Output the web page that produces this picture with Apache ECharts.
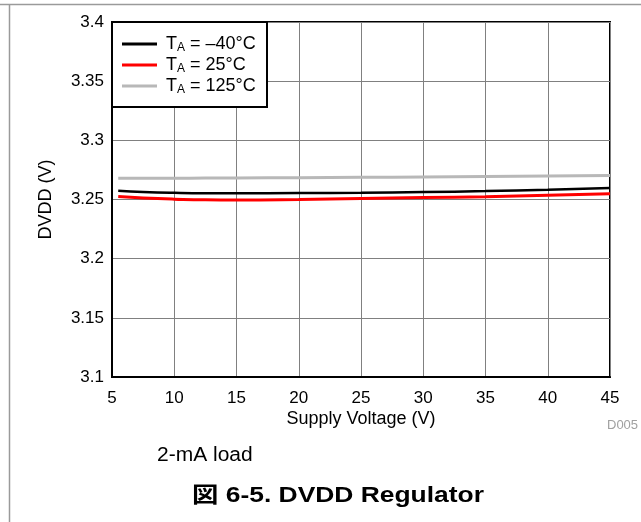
<!DOCTYPE html>
<html><head><meta charset="utf-8">
<script src="https://cdn.jsdelivr.net/npm/echarts@6/dist/echarts.min.js"></script>
<style>html,body{margin:0;padding:0;background:#fff}#c{width:641px;height:522px}</style>
</head><body><div id="c"></div>
<script>
const xValues = [5.5, 7.5, 10, 12.5, 15, 20, 25, 30, 35, 40, 45];
const seriesNames = ['T_A = \u201340\u00b0C', 'T_A = 25\u00b0C', 'T_A = 125\u00b0C'];
const blackVals = [3.2573, 3.2563, 3.2556, 3.2553, 3.2553, 3.2554, 3.2557, 3.2563, 3.2571, 3.2583, 3.2597];
const redVals   = [3.2525, 3.2513, 3.2503, 3.2497, 3.2496, 3.2500, 3.2508, 3.2516, 3.2524, 3.2535, 3.2548];
const grayVals  = [3.2680, 3.2680, 3.2680, 3.2681, 3.2682, 3.2684, 3.2687, 3.2690, 3.2694, 3.2698, 3.2703];
const legendLabels = [['T','A',' = \u201340\u00b0C'], ['T','A',' = 25\u00b0C'], ['T','A',' = 125\u00b0C']];

const FONT = '"Liberation Sans", Arial, "Noto Sans CJK JP", sans-serif';
const pair = v => xValues.map((x, i) => [x, v[i]]);
const chart = echarts.init(document.getElementById('c'), null, {renderer: 'canvas'});
const colors = ['#000000', '#ff0000', '#b8b8b8'];
const widths = [2.5, 3, 3];
const allVals = [blackVals, redVals, grayVals];

chart.setOption({
  animation: false,
  backgroundColor: '#fff',
  grid: {left: 112, right: 31, top: 22, bottom: 145, show: true, borderColor: '#000', borderWidth: 2},
  xAxis: {
    type: 'value', min: 5, max: 45, interval: 5,
    name: 'Supply Voltage (V)', nameLocation: 'middle', nameGap: 33, nameMoveOverlap: false,
    nameTextStyle: {fontFamily: FONT, fontSize: 18, color: '#000'},
    axisLine: {show: true, lineStyle: {color: '#000', width: 2}},
    axisTick: {show: false},
    axisLabel: {fontFamily: FONT, fontSize: 17, color: '#000', margin: 13},
    splitLine: {show: true, lineStyle: {color: '#808080', width: 1}}
  },
  yAxis: {
    type: 'value', min: 3.1, max: 3.4, interval: 0.05,
    name: 'DVDD (V)', nameLocation: 'middle', nameGap: 57, nameMoveOverlap: false,
    nameTextStyle: {fontFamily: FONT, fontSize: 18, color: '#000'},
    axisLine: {show: true, lineStyle: {color: '#000', width: 2}},
    axisTick: {show: false},
    axisLabel: {fontFamily: FONT, fontSize: 17, color: '#000', margin: 8,
      formatter: v => String(+v.toFixed(2))},
    splitLine: {show: true, lineStyle: {color: '#808080', width: 1}}
  },
  legend: {
    orient: 'vertical', left: 122, top: 34, itemWidth: 35, itemHeight: 3, itemGap: 1,
    icon: 'rect',
    padding: 0, z: 20,
    data: seriesNames,
    formatter: name => {
      const l = legendLabels[seriesNames.indexOf(name)];
      return '{t|' + l[0] + '}{s|' + l[1] + '}{t|' + l[2] + '}';
    },
    textStyle: {
      rich: {
        t: {fontFamily: FONT, fontSize: 18, color: '#000', lineHeight: 18},
        s: {fontFamily: FONT, fontSize: 12, color: '#000', lineHeight: 12, padding: [8, 0, 0, 0]}
      },
      padding: [0, 0, 0, 4]
    }
  },
  graphic: [
    {type: 'line', shape: {x1: 0, y1: 4.5, x2: 641, y2: 4.5}, style: {stroke: '#9a9a9a', lineWidth: 1.5}, z: 0},
    {type: 'line', shape: {x1: 9.5, y1: 4, x2: 9.5, y2: 522}, style: {stroke: '#9a9a9a', lineWidth: 1.5}, z: 0},
    {type: 'rect', shape: {x: 112, y: 22, width: 155, height: 85}, style: {fill: '#fff', stroke: '#000', lineWidth: 2}, z: 10},
    {type: 'text', x: 607, y: 419, style: {text: 'D005', fontFamily: FONT, fontSize: 13, fill: '#a0a0a0'}},
    {type: 'text', x: 157, y: 445, scaleX: 1.05, style: {text: '2-mA load', fontFamily: FONT, fontSize: 20, fill: '#000'}},
    {type: 'text', x: 192, y: 485, scaleX: 1.2, style: {text: '\u56f3 6-5. DVDD Regulator', fontFamily: FONT, fontSize: 22, fontWeight: 'bold', fill: '#000'}}
  ],
  series: seriesNames.map((n, i) => ({
    name: n, type: 'line', symbol: 'none', smooth: true,
    data: pair(allVals[i]),
    lineStyle: {color: colors[i], width: widths[i]},
    itemStyle: {color: colors[i]},
    z: 3 - i
  }))
});
</script></body></html>
